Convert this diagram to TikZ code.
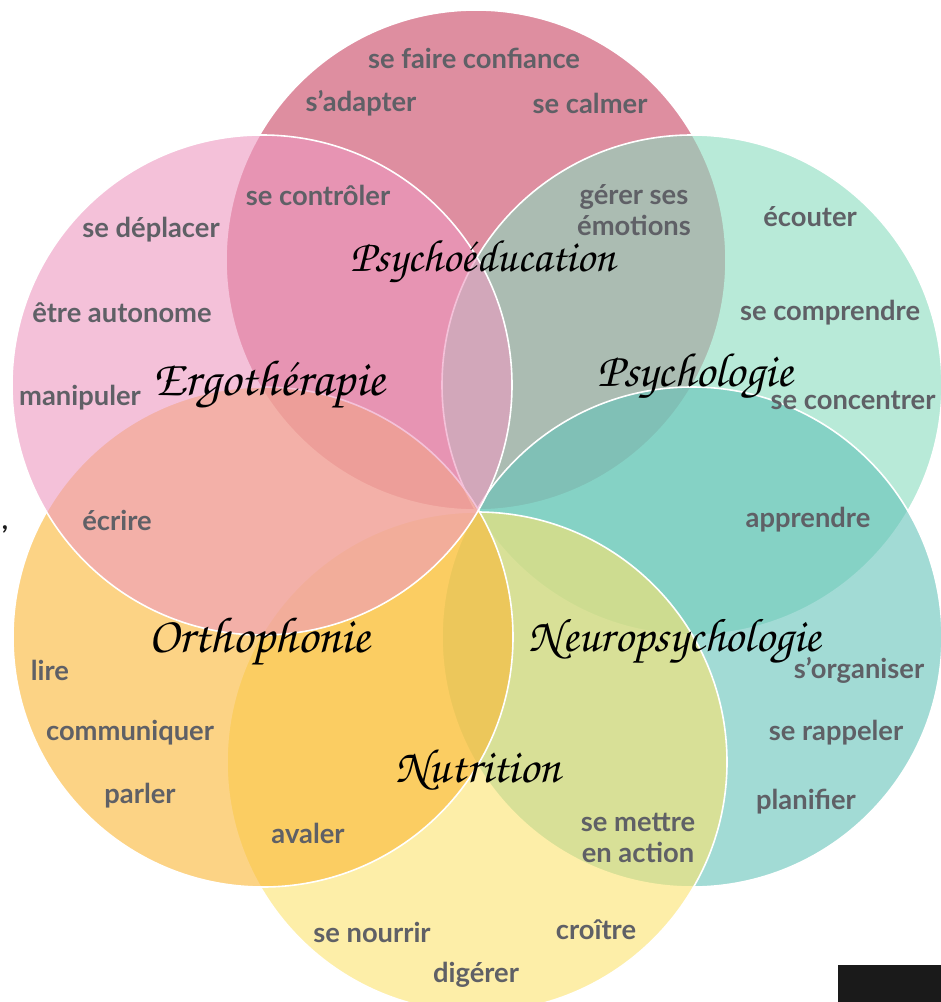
\documentclass[tikz,border=0pt]{standalone}
\usepackage[T1]{fontenc}
\usepackage{fontspec}
\setmainfont{Lato}
\definecolor{labgray}{RGB}{95,96,102}
\definecolor{cpsyedu}{RGB}{200,68,97}
\definecolor{cpsycho}{RGB}{137,220,190}
\definecolor{cneuro}{RGB}{100,195,185}
\definecolor{cnutri}{RGB}{253,228,110}
\definecolor{cortho}{RGB}{250,183,52}
\definecolor{cergo}{RGB}{237,153,192}
\definecolor{cblack}{RGB}{26,26,26}
\tikzset{
  petal/.style={draw=white, line width=1.2pt, fill opacity=0.6},
  lab/.style={text=labgray, font=\bfseries\fontsize{20.5}{23}\selectfont, align=center, inner sep=0pt},
  ttl/.style={text=black, inner sep=0pt, font=\fontencoding{T1}\fontfamily{pzc}\fontseries{mb}\fontshape{it}\fontsize{#1}{#1}\selectfont},
  ttl/.default=36
}
\begin{document}
\begin{tikzpicture}[x=0.75pt,y=-0.75pt]
\useasboundingbox (0,0) rectangle (941,1002);
\fill[white] (0,0) rectangle (941,1002);
% centres
\coordinate (cA) at (476,260);
\coordinate (cB) at (692,385);
\coordinate (cC) at (692,637);
\coordinate (cD) at (477,762);
\coordinate (cE) at (263,637);
\coordinate (cF) at (262,385);
\def\R{187.5pt}
\draw[petal, fill=cpsyedu] (cA) circle[radius=\R];
\draw[petal, fill=cpsycho] (cB) circle[radius=\R];
\draw[petal, fill=cneuro] (cC) circle[radius=\R];
\draw[petal, fill=cnutri] (cD) circle[radius=\R];
\draw[petal, fill=cortho] (cE) circle[radius=\R];
\draw[petal, fill=cergo] (cF) circle[radius=\R];
% labels
\node[lab] (t1) at (474,58) {se faire confiance};
\node[lab] (t2) at (361,103) {s’adapter};
\node[lab] (t3) at (590,103) {se calmer};
\node[lab] (t4) at (318,195) {se contrôler};
\node[lab] (t5) at (634,210) {gérer ses\\émotions};
\node[lab] (t6) at (151,230) {se déplacer};
\node[lab] (t7) at (122,313) {être autonome};
\node[lab] (t8) at (80,398) {manipuler};
\node[lab] (t9) at (810,217) {écouter};
\node[lab] (t10) at (830,313) {se comprendre};
\node[lab] (t11) at (853,400) {se concentrer};
\node[lab] (t12) at (117,520) {écrire};
\node[lab] (t13) at (808,520) {apprendre};
\node[lab] (t14) at (50,670) {lire};
\node[lab] (t15) at (859,670) {s’organiser};
\node[lab] (t16) at (130,733) {communiquer};
\node[lab] (t17) at (836,733) {se rappeler};
\node[lab] (t18) at (140,796) {parler};
\node[lab] (t19) at (806,802) {planifier};
\node[lab] (t20) at (308,833) {avaler};
\node[lab] (t21) at (638,838) {se mettre\\en action};
\node[lab] (t22) at (372,932) {se nourrir};
\node[lab] (t23) at (596,930) {croître};
\node[lab] (t24) at (476,975) {digérer};
% titles
\node[ttl=34] (n1) at (483,262) {Psychoéducation};
\node[ttl=38] (n2) at (269,385) {Ergothérapie};
\node[ttl=36] (n3) at (695,377) {Psychologie};
\node[ttl=38] (n4) at (259,642) {Orthophonie};
\node[ttl=35.5] (n5) at (675,642) {Neuropsychologie};
\node[ttl=36] (n6) at (478,770) {Nutrition};
% screenshot leftovers
\node[text=cblack, inner sep=0pt, font=\bfseries\fontsize{20}{22}\selectfont] (cm) at (5,529) {,};
\fill[cblack] (838,965) rectangle (941,1002);
\end{tikzpicture}
\end{document}
